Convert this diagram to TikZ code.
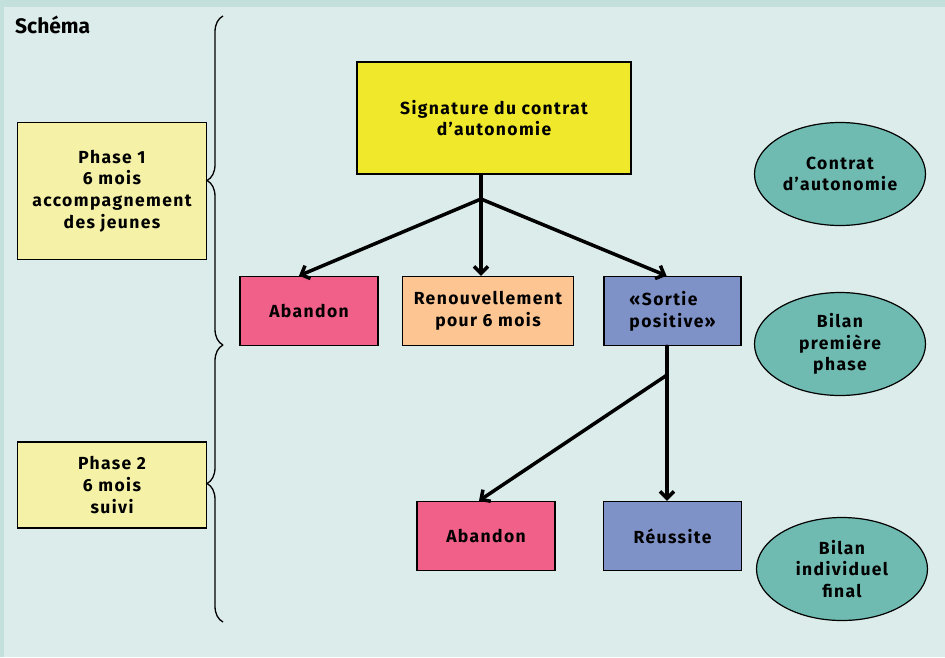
\documentclass[tikz,border=0pt]{standalone}
\usepackage{fontspec}
\setmainfont{Fira Sans}
\newfontfamily\boxfont[LetterSpace=8]{Fira Sans}
\usetikzlibrary{
	positioning,
	arrows.meta,
	shapes.geometric,
	decorations.pathreplacing
}
\definecolor{bandcol}{HTML}{C3E0DC}
\definecolor{panelcol}{HTML}{DCECEA}
\definecolor{jaune}{HTML}{F0E92B}
\definecolor{jaunepale}{HTML}{F5F2A8}
\definecolor{rose}{HTML}{F06089}
\definecolor{peche}{HTML}{FDC592}
\definecolor{bleu}{HTML}{7F92C8}
\definecolor{turquoise}{HTML}{6FBBB2}
\tikzset{
	box/.style={
		draw=black, line width=1.5pt, inner sep=0pt,
		minimum width=138pt, minimum height=69pt, align=center,
		font=\boxfont\bfseries\fontsize{17.5}{21.7}\selectfont
	},
	bilan/.style={
		ellipse, draw=black, line width=1.2pt, fill=turquoise, inner sep=0pt,
		minimum width=171pt, minimum height=103pt, align=center,
		font=\boxfont\bfseries\fontsize{17.5}{21.7}\selectfont
	},
	trait/.style={line width=3.5pt, line cap=round},
	fleche/.style={
		line width=3.5pt, line cap=round,
		-{Straight Barb[length=7pt,width=14pt]}
	},
	accolade/.style={
		decorate, decoration={brace, amplitude=16pt}, line width=1.3pt
	}
}

\begin{document}
\begin{tikzpicture}[x=1pt,y=-1pt]
	\useasboundingbox (0,0) rectangle (945,657);
	\fill[bandcol] (0,0) rectangle (945,657);
	\fill[panelcol] (4,7) rectangle (945,657);
	\node[anchor=base west, inner sep=0pt, font=\bfseries\fontsize{21}{24}\selectfont] (titre) at (15,33) {Schéma};

	% phases
	\draw
		node[box, fill=jaunepale, minimum width=189pt, minimum height=137pt] (phaseA) at (112,191) {Phase 1\\6 mois\\accompagnement\\des jeunes}
		node[box, fill=jaunepale, minimum width=189pt, minimum height=86pt]  (phaseB) at (112,485) {Phase 2\\6 mois\\suivi}
	;
	\draw[accolade] (223,345) -- (223,16);
	\draw[accolade] (223,622) -- (223,345);

	% boites
	\draw
		node[box, fill=jaune, minimum width=274pt, minimum height=112pt] (sig) at (494,118) {Signature du contrat\\d’autonomie}
		node[box, fill=rose]                              (abandonA) at (309,311) {Abandon}
		node[box, fill=peche, minimum width=171pt, right=23pt of abandonA] (renouv) {Renouvellement\\pour 6 mois}
		node[box, fill=bleu, minimum width=137pt, align=left, right=29pt of renouv] (sortie) {«Sortie\\positive»}
		node[box, fill=rose]                              (abandonB) at (486,536) {Abandon}
		node[box, fill=bleu, right=47pt of abandonB]      (reussite) {Réussite}
	;

	% bilans
	\draw
		node[bilan] (bilanA) at (840,174) {Contrat\\d’autonomie}
		node[bilan] (bilanB) at (840,344) {Bilan\\première\\phase}
		node[bilan] (bilanC) at (842,569) {Bilan\\individuel\\final}
	;

	% liaisons
	\coordinate (j1) at (481,199);
	\coordinate (j2) at (667,375);
	\draw[trait]  (j1 |- sig.south) -- (j1);
	\draw[fleche] (j1) -- ([xshift=-10pt]abandonA.north);
	\draw[fleche] (j1) -- (j1 |- renouv.north);
	\draw[fleche] (j1) -- ([xshift=-6pt]sortie.north);
	\draw[trait]  (j2 |- sortie.south) -- (j2);
	\draw[fleche] (j2) -- ([xshift=-7pt]abandonB.north);
	\draw[fleche] (j2) -- (j2 |- reussite.north);
\end{tikzpicture}
\end{document}
